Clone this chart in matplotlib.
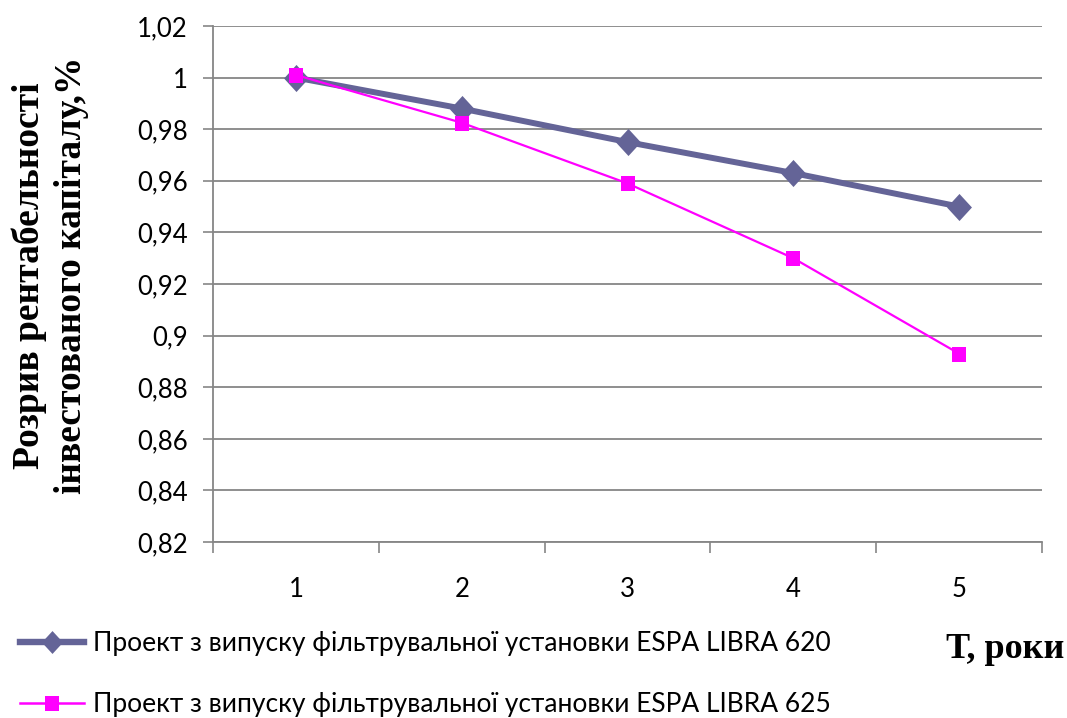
import matplotlib
matplotlib.use("Agg")
import matplotlib.pyplot as plt
from matplotlib.path import Path
from matplotlib.lines import Line2D
from matplotlib.ticker import FixedLocator, FuncFormatter

years = ["1", "2", "3", "4", "5"]
libra_620 = [1.000, 0.988, 0.975, 0.963, 0.950]
libra_625 = [1.001, 0.9825, 0.959, 0.930, 0.893]
series_names = [
    "Проект з випуску фільтрувальної установки ESPA LIBRA 620",
    "Проект з випуску фільтрувальної установки ESPA LIBRA 625",
]
y_ticks = [0.82, 0.84, 0.86, 0.88, 0.90, 0.92, 0.94, 0.96, 0.98, 1.00, 1.02]
y_label = "Розрив рентабельності\nінвестованого капіталу,%"
x_label = "Т, роки"

c620 = "#646497"
c625 = "#FF00FF"
grid_c = "#868686"


def poly_marker(pts):
    verts = pts + [pts[0]]
    codes = [Path.MOVETO] + [Path.LINETO] * (len(pts) - 1) + [Path.CLOSEPOLY]
    return Path(verts, codes)


# slightly tall diamond and rectangle markers
diamond = poly_marker([(0, 1), (0.92, 0), (0, -1), (-0.92, 0)])
rect = poly_marker([(-0.87, -1), (0.87, -1), (0.87, 1), (-0.87, 1)])

sans = ["Lato", "DejaVu Sans"]
serif = ["Liberation Serif", "DejaVu Serif"]

fig = plt.figure(figsize=(10.67, 7.18), dpi=100)
ax = fig.add_axes([0.1996, 0.2451, 0.777, 0.7187])

x = list(range(len(years)))
ax.plot(x, libra_620, color=c620, lw=4.3, marker=diamond, ms=19.5,
        mfc=c620, mec=c620, mew=0, zorder=3)
ax.plot(x, libra_625, color=c625, lw=1.6, marker=rect, ms=10.8,
        mfc=c625, mec=c625, mew=0, zorder=4)

ax.set_xlim(-0.5, len(years) - 0.5)
ax.set_ylim(0.82, 1.02)
ax.set_yticks(y_ticks)
ax.yaxis.set_major_formatter(FuncFormatter(
    lambda v, p: f"{v:.2f}".rstrip("0").rstrip(".").replace(".", ",")))
ax.yaxis.grid(True, color=grid_c, lw=1.3)
ax.set_axisbelow(True)

# category boundaries carry the tick marks, centres carry the labels
ax.xaxis.set_major_locator(FixedLocator([i - 0.5 for i in range(len(years) + 1)]))
ax.xaxis.set_major_formatter(FuncFormatter(lambda v, p: ""))
ax.xaxis.set_minor_locator(FixedLocator(x))
ax.set_xticklabels(years, minor=True)
ax.tick_params(axis="x", which="major", direction="out", length=8, width=1.2, color=grid_c)
ax.tick_params(axis="x", which="minor", length=0, pad=25, labelsize=18.5)
ax.tick_params(axis="y", direction="out", length=7, width=1.2, color=grid_c, pad=11, labelsize=18.5)
for lab in ax.get_xticklabels(minor=True) + ax.get_yticklabels():
    lab.set_family(sans)

for s in ("top", "right"):
    ax.spines[s].set_visible(False)
for s in ("left", "bottom"):
    ax.spines[s].set_color(grid_c)
    ax.spines[s].set_linewidth(1.3)

fig.text(0.047, 0.616, y_label, rotation=90, ha="center", va="center",
         multialignment="center", family=serif, fontweight="bold",
         fontsize=27, linespacing=1.25)
fig.text(0.942, 0.096, x_label, ha="center", va="center", family=serif,
         fontweight="bold", fontsize=26)

handles = [
    Line2D([], [], color=c620, lw=4.6, marker=diamond, ms=16.5, mew=0),
    Line2D([], [], color=c625, lw=1.8, marker=rect, ms=10.8, mew=0),
]
fig.legend(handles, series_names, loc="center left", bbox_to_anchor=(0.019, 0.061),
           frameon=False, handlelength=2.4, handletextpad=0.34, labelspacing=1.35,
           prop={"family": sans, "size": 19}, borderaxespad=0.0, borderpad=0.0)

fig.savefig("out.png", dpi=100)
